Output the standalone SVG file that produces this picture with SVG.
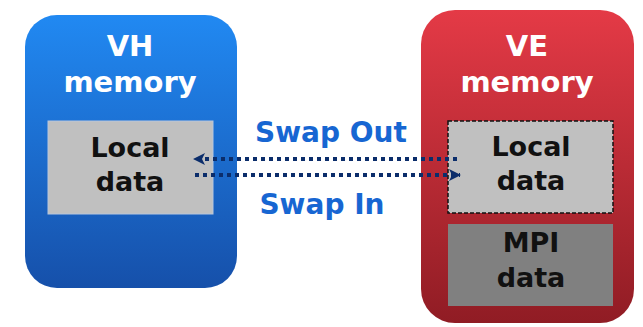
<svg xmlns="http://www.w3.org/2000/svg" width="643" height="327" viewBox="0 0 643 327">
  <defs>
    <linearGradient id="blueFill" x1="0" y1="0" x2="0" y2="1">
      <stop offset="0" stop-color="#2189f2"/>
      <stop offset="1" stop-color="#1650aa"/>
    </linearGradient>
    <linearGradient id="redFill" x1="0" y1="0" x2="0" y2="1">
      <stop offset="0" stop-color="#e43a46"/>
      <stop offset="1" stop-color="#901c24"/>
    </linearGradient>
    <marker id="head" viewBox="0 0 12 12" refX="11" refY="6" markerWidth="12" markerHeight="12" markerUnits="userSpaceOnUse" orient="auto">
      <path d="M0,0 L12,6 L0,12 L3,6 Z" fill="#0b2d6b"/>
    </marker>
    <style>
      .title { font-family: "DejaVu Sans", Verdana, sans-serif; font-weight: bold; font-size: 29px; fill: #ffffff; text-anchor: middle; }
      .label { font-family: "DejaVu Sans", Verdana, sans-serif; font-weight: bold; font-size: 27px; fill: #111111; text-anchor: middle; }
      .swap { font-family: "DejaVu Sans", Verdana, sans-serif; font-weight: bold; font-size: 28px; fill: #1766d2; text-anchor: middle; }
      .light { fill: #c0c0c0; }
      .dark { fill: #808080; }
      .flow { fill: none; stroke: #0b2d6b; stroke-width: 4; stroke-dasharray: 4 4; }
    </style>
  </defs>

  <!-- host memory -->
  <g id="vh-memory">
    <rect x="25" y="15" width="212" height="273" rx="32" fill="url(#blueFill)"/>
    <text class="title" x="130" y="56">VH</text>
    <text class="title" x="130" y="92">memory</text>
  </g>
  <g id="vh-local">
    <rect class="light" x="48" y="121" width="165" height="93" stroke="#b8c6dc" stroke-width="1"/>
    <text class="label" x="130" y="157">Local</text>
    <text class="label" x="130" y="191">data</text>
  </g>

  <!-- engine memory -->
  <g id="ve-memory">
    <rect x="421" y="10" width="213" height="313" rx="34" fill="url(#redFill)"/>
    <text class="title" x="527" y="56">VE</text>
    <text class="title" x="527" y="92">memory</text>
  </g>
  <g id="ve-local">
    <rect class="light" x="448" y="121" width="165" height="92" stroke="#111111" stroke-width="1.5" stroke-dasharray="4 2"/>
    <text class="label" x="531" y="156">Local</text>
    <text class="label" x="531" y="190">data</text>
  </g>
  <g id="ve-mpi">
    <rect class="dark" x="448" y="224" width="165" height="82"/>
    <text class="label" x="531" y="252">MPI</text>
    <text class="label" x="531" y="287">data</text>
  </g>

  <!-- transfers -->
  <g id="connectors">
    <line class="flow" x1="457" y1="159" x2="194" y2="159" marker-end="url(#head)"/>
    <line class="flow" x1="195" y1="175" x2="460" y2="175" marker-end="url(#head)"/>
  </g>
  <g id="labels">
    <text class="swap" x="331" y="142">Swap Out</text>
    <text class="swap" x="322" y="214">Swap In</text>
  </g>
</svg>
